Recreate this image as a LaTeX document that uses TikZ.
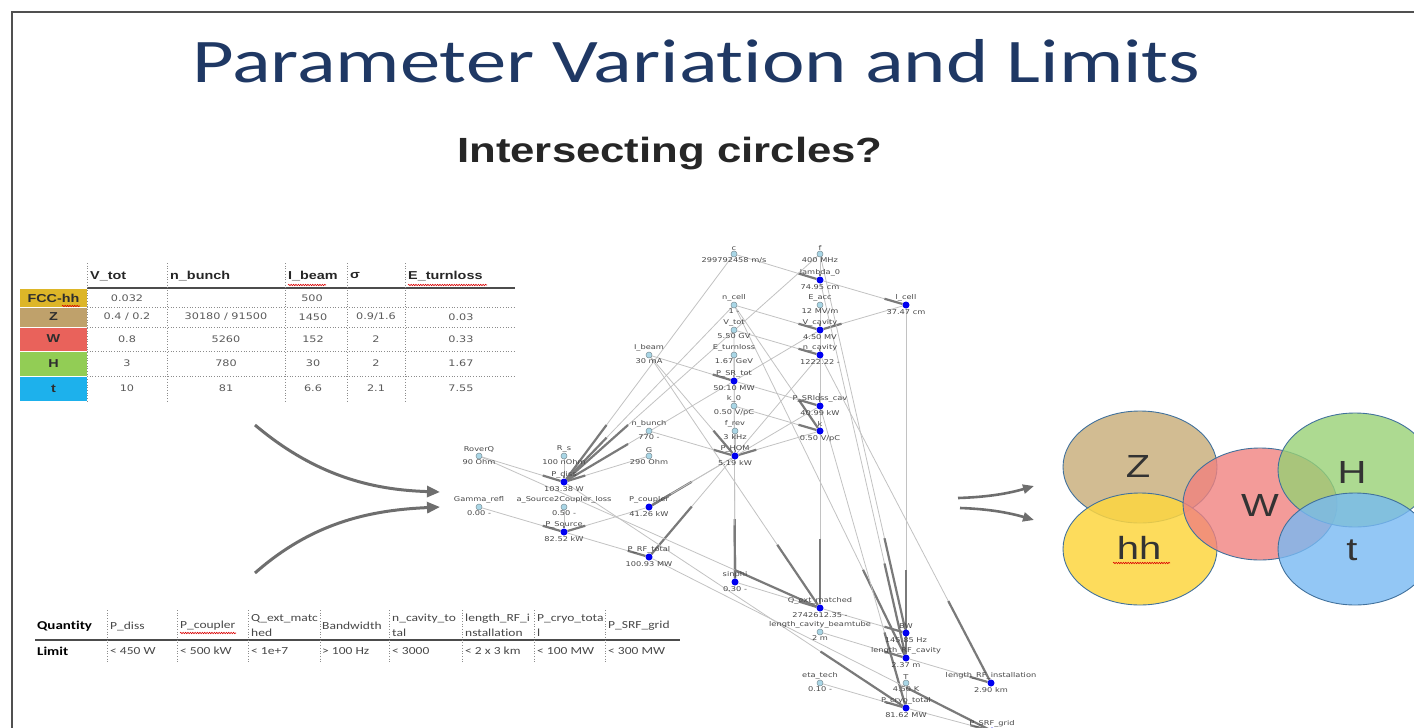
\documentclass[tikz,border=0pt]{standalone}
\usepackage{fontspec}
\usepackage{graphicx}
\usetikzlibrary{calc,arrows.meta,decorations.pathmorphing}
\newfontfamily\carl[Ligatures={NoCommon}]{Carlito}
\newfontfamily\dvs{DejaVu Sans}
\newfontfamily\lib{Liberation Sans}
\newcommand{\sx}[1]{\scalebox{1.25}[1]{#1}}
\newcommand{\gfont}{\dvs\fontsize{6.6}{7.5}\selectfont}
\definecolor{navy}{HTML}{1F3864}
\definecolor{framegray}{HTML}{505050}
\definecolor{nodelight}{HTML}{A9D6E6}
\definecolor{nodeedge}{HTML}{7A8E96}
\definecolor{nodeblue}{HTML}{0000F0}
\definecolor{arrowgray}{HTML}{6E6E6E}
\definecolor{cfcc}{HTML}{DDB628}
\definecolor{cz}{HTML}{BFA16B}
\definecolor{cw}{HTML}{E9625B}
\definecolor{ch}{HTML}{92CD55}
\definecolor{ct}{HTML}{1DB1EC}
\definecolor{ez}{HTML}{D2BC92}
\definecolor{ehh}{HTML}{FDD640}
\definecolor{ew}{HTML}{F0827F}
\definecolor{eh}{HTML}{98D175}
\definecolor{et}{HTML}{78B9F3}
\definecolor{eedge}{HTML}{41719C}
\definecolor{datagray}{HTML}{5A5A5A}
\pgfdeclarelayer{bg}
\pgfsetlayers{bg,main}
\tikzset{
  inpnode/.style={circle, fill=nodelight, draw=nodeedge, line width=0.5pt, minimum size=6pt, inner sep=0pt, label distance=0.3pt},
  outnode/.style={circle, fill=nodeblue, minimum size=7pt, inner sep=0pt, label distance=0.3pt},
  glabel/.style={font=\gfont, text=black!72, inner sep=0.3pt},
  ethin/.style={draw=black!24, line width=0.8pt},
  ethick/.style={draw=black!52, line width=2.2pt},
  bigarrow/.style={draw=arrowgray, line width=3pt, -{Triangle[length=13pt,width=11pt]}},
  smallarrow/.style={draw=arrowgray, line width=2.6pt, -{Triangle[length=11pt,width=9pt]}},
  thead/.style={font=\lib\bfseries\fontsize{11.5}{13}\selectfont, text=black!85, inner sep=0pt, anchor=west},
  tlab/.style={font=\lib\bfseries\fontsize{11.5}{13}\selectfont, text=black!82, inner sep=0pt},
  tdat/.style={font=\dvs\fontsize{9}{11}\selectfont, text=datagray, inner sep=0pt},
  tsolid/.style={draw=black!70, line width=1.1pt},
  tdot/.style={draw=black!45, line width=0.7pt, dotted},
  bhead/.style={font=\carl\fontsize{10.8}{12}\selectfont, text=black!72, inner sep=0pt, anchor=west},
  bbold/.style={font=\carl\bfseries\fontsize{12}{13}\selectfont, text=black, inner sep=0pt, anchor=west},
  spell/.style={draw=red!85!black, line width=0.6pt, decorate, decoration={snake, amplitude=0.7pt, segment length=2.4pt}},
  ell/.style={draw=eedge, line width=0.9pt},
  clabel/.style={font=\lib\fontsize{32}{36}\selectfont, text=black!80, inner sep=0pt}
}
\newcommand{\inp}[4]{\node[inpnode, label={[glabel]above:{\sx{#3}}}, label={[glabel]below:{\sx{#4}}}] (#1) at (#2) {};}
\newcommand{\outp}[4]{\node[outnode, label={[glabel]above:{\sx{#3}}}, label={[glabel]below:{\sx{#4}}}] (#1) at (#2) {};}
\newcommand{\gedge}[2]{\draw[ethin] (#1) -- (#2); \draw[ethick] ($(#1)!0.75!(#2)$) -- (#2);}
\begin{document}
\begin{tikzpicture}[x=1pt,y=-1pt]
\useasboundingbox (0,0) rectangle (1414,728);
\clip (0,0) rectangle (1414,728);
% frame
\draw[framegray, line width=1.5pt] (12,728) -- (12,12) -- (1414,12);
% titles
\node[anchor=base west, inner sep=0pt, text=navy, font=\carl\fontsize{62}{70}\selectfont] (title) at (192,82) {\scalebox{1.3}[1]{Parameter Variation and Limits}};
\node[anchor=base west, inner sep=0pt, text=black!85, font=\lib\bfseries\fontsize{35}{40}\selectfont] (subtitle) at (457,162) {\sx{Intersecting circles?}};

% ---------- top table ----------
\fill[cfcc] (20,289) rectangle (87,307);
\fill[cz] (20,307) rectangle (87,327);
\fill[cw] (20,327) rectangle (87,351);
\fill[ch] (20,351) rectangle (87,376);
\fill[ct] (20,376) rectangle (87,401);
\draw[white, line width=0.7pt] (20,307) -- (87,307) (20,327) -- (87,327) (20,351) -- (87,351) (20,376) -- (87,376);
\draw[tsolid] (87,288) -- (515,288);
\foreach \yy in {307,327,351,376} \draw[tdot] (87,\yy) -- (515,\yy);
\foreach \xx in {87,167,285,347,405} \draw[tdot] (\xx,263) -- (\xx,401);
\node[thead] (h1) at (90,276) {\sx{V\_tot}};
\node[thead] (h2) at (170,276) {\sx{n\_bunch}};
\node[thead] (h3) at (288,276) {\sx{I\_beam}};
\node[thead] (h4) at (350,276) {\sx{σ}};
\node[thead] (h5) at (408,276) {\sx{E\_turnloss}};
\draw[spell] (288,285) -- (326,285);
\draw[spell] (408,285) -- (487,285);
\node[tlab] (rfcc) at (53.5,298) {\sx{FCC-hh}};
\draw[spell] (62,306) -- (80,306);
\node[tlab] (rz) at (53.5,317) {\sx{Z}};
\node[tlab] (rw) at (53.5,339) {\sx{W}};
\node[tlab] (rh) at (53.5,363.5) {\sx{H}};
\node[tlab] (rt) at (53.5,388.5) {\sx{t}};
% data
\node[tdat] (d11) at (127,298) {\sx{0.032}};
\node[tdat] (d13) at (312,298) {\sx{500}};
\node[tdat] (d21) at (127,317) {\sx{0.4 / 0.2}};
\node[tdat] (d22) at (226,317) {\sx{30180 / 91500}};
\node[tdat] (d23) at (313,317) {\sx{1450}};
\node[tdat] (d24) at (376,317) {\sx{0.9/1.6}};
\node[tdat] (d25) at (461,317) {\sx{0.03}};
\node[tdat] (d31) at (127,339) {\sx{0.8}};
\node[tdat] (d32) at (226,339) {\sx{5260}};
\node[tdat] (d33) at (313,339) {\sx{152}};
\node[tdat] (d34) at (376,339) {\sx{2}};
\node[tdat] (d35) at (461,339) {\sx{0.33}};
\node[tdat] (d41) at (127,363.5) {\sx{3}};
\node[tdat] (d42) at (226,363.5) {\sx{780}};
\node[tdat] (d43) at (313,363.5) {\sx{30}};
\node[tdat] (d44) at (376,363.5) {\sx{2}};
\node[tdat] (d45) at (461,363.5) {\sx{1.67}};
\node[tdat] (d51) at (127,388.5) {\sx{10}};
\node[tdat] (d52) at (226,388.5) {\sx{81}};
\node[tdat] (d53) at (313,388.5) {\sx{6.6}};
\node[tdat] (d54) at (376,388.5) {\sx{2.1}};
\node[tdat] (d55) at (461,388.5) {\sx{7.55}};

% ---------- bottom table ----------
\draw[tsolid] (35,640) -- (680,640);
\foreach \xx in {107,177,248,320,389,462,534,605} \draw[tdot] (\xx,610) -- (\xx,662);
\node[bbold] (bq) at (37,626) {\sx{Quantity}};
\node[bbold] (bl) at (37,651) {\sx{Limit}};
\node[bhead] (b1) at (110,626) {\sx{P\_diss}};
\node[bhead] (b2) at (180,626) {\sx{P\_coupler}};
\draw[spell] (180,633) -- (236,633);
\node[bhead] (b3a) at (251,619) {\sx{Q\_ext\_matc}};
\node[bhead] (b3b) at (251,633) {\sx{hed}};
\node[bhead] (b4) at (322,626) {\sx{Bandwidth}};
\node[bhead] (b5a) at (392,619) {\sx{n\_cavity\_to}};
\node[bhead] (b5b) at (392,633) {\sx{tal}};
\node[bhead] (b6a) at (465,619) {\sx{length\_RF\_i}};
\node[bhead] (b6b) at (465,633) {\sx{nstallation}};
\node[bhead] (b7a) at (537,619) {\sx{P\_cryo\_tota}};
\node[bhead] (b7b) at (537,633) {\sx{l}};
\node[bhead] (b8) at (608,626) {\sx{P\_SRF\_grid}};
\node[bhead] (v1) at (110,651) {\sx{< 450 W}};
\node[bhead] (v2) at (180,651) {\sx{< 500 kW}};
\node[bhead] (v3) at (251,651) {\sx{< 1e+7}};
\node[bhead] (v4) at (322,651) {\sx{> 100 Hz}};
\node[bhead] (v5) at (392,651) {\sx{< 3000}};
\node[bhead] (v6) at (465,651) {\sx{< 2 x 3 km}};
\node[bhead] (v7) at (537,651) {\sx{< 100 MW}};
\node[bhead] (v8) at (608,651) {\sx{< 300 MW}};

% ---------- arrows ----------
\coordinate (la1) at (255,425);
\coordinate (la1e) at (440,492);
\coordinate (la2) at (255,573);
\coordinate (la2e) at (440,507);
\draw[bigarrow] (la1) .. controls (320,480) and (380,490) .. (la1e);
\draw[bigarrow] (la2) .. controls (315,520) and (375,510) .. (la2e);
\coordinate (ra1) at (958,498);
\coordinate (ra1e) at (1034,486);
\coordinate (ra2) at (960,508);
\coordinate (ra2e) at (1034,520);
\draw[smallarrow] (ra1) .. controls (990,497) and (1010,493) .. (ra1e);
\draw[smallarrow] (ra2) .. controls (990,509) and (1010,513) .. (ra2e);

% ---------- graph nodes ----------
\inp{c}{734,254}{c}{299792458 m/s}
\inp{f}{820,254}{f}{400 MHz}
\outp{lam}{820,280}{lambda\_0}{74.95 cm}
\inp{ncell}{734,305}{n\_cell}{1 -}
\inp{Eacc}{820,305}{E\_acc}{12 MV/m}
\outp{lcell}{906,305}{l\_cell}{37.47 cm}
\inp{Vtot}{734,330}{V\_tot}{5.50 GV}
\outp{Vcav}{820,330}{V\_cavity}{4.50 MV}
\inp{Eturn}{734,355}{E\_turnloss}{1.67 GeV}
\outp{ncav}{820,355}{n\_cavity}{1222.22 -}
\inp{Ibeam}{649,355}{I\_beam}{30 mA}
\outp{PSR}{734,381}{P\_SR\_tot}{50.10 MW}
\inp{kz}{734,406}{k\_0}{0.50 V/pC}
\outp{PSRl}{820,406}{P\_SRloss\_cav}{40.99 kW}
\inp{frev}{735,431}{f\_rev}{3 kHz}
\outp{kk}{820,431}{k}{0.50 V/pC}
\inp{nb}{649,431}{n\_bunch}{770 -}
\outp{PHOM}{735,456}{P\_HOM}{5.19 kW}
\inp{GG}{649,456}{G}{290 Ohm}
\inp{RQ}{479,456}{RoverQ}{90 Ohm}
\inp{Rs}{564,456}{R\_s}{100 nOhm}
\outp{Pdiss}{564,482}{P\_diss}{103.38 W}
\inp{Gam}{479,507}{Gamma\_refl}{0.00 -}
\inp{aS}{564,507}{a\_Source2Coupler\_loss}{0.50 -}
\outp{Pcoup}{649,507}{P\_coupler}{41.26 kW}
\outp{PSrc}{564,532}{P\_Source}{82.52 kW}
\outp{PRF}{649,557}{P\_RF\_total}{100.93 MW}
\outp{sphi}{735,582}{sinphi}{0.30 -}
\outp{Qext}{820,608}{Q\_ext\_matched}{2742612.35 -}
\inp{lcb}{820,632}{length\_cavity\_beamtube}{2 m}
\outp{BW}{906,633}{BW}{145.85 Hz}
\outp{lRFc}{906,658}{length\_RF\_cavity}{2.37 m}
\inp{eta}{820,683}{eta\_tech}{0.10 -}
\inp{TT}{906,683}{T}{4.50 K}
\outp{lRFi}{991,683}{length\_RF\_installation}{2.90 km}
\outp{Pcryo}{906,708}{P\_cryo\_total}{81.62 MW}
\outp{PSRF}{992,731}{P\_SRF\_grid}{}

\begin{pgfonlayer}{bg}
\gedge{c}{lam}
\gedge{f}{lam}
\gedge{lam}{lcell}
\gedge{ncell}{Vcav}
\gedge{Eacc}{Vcav}
\gedge{lcell}{Vcav}
\gedge{Vtot}{ncav}
\gedge{Vcav}{ncav}
\gedge{Eturn}{PSR}
\gedge{Ibeam}{PSR}
\gedge{PSR}{PSRl}
\gedge{ncav}{PSRl}
\gedge{kz}{kk}
\gedge{ncell}{kk}
\gedge{kk}{PHOM}
\gedge{frev}{PHOM}
\gedge{nb}{PHOM}
\gedge{Ibeam}{PHOM}
\gedge{RQ}{Pdiss}
\gedge{Rs}{Pdiss}
\gedge{GG}{Pdiss}
\gedge{Vcav}{Pdiss}
\gedge{c}{Pdiss}
\gedge{f}{Pdiss}
\gedge{ncell}{Pdiss}
\gedge{PSRl}{Pcoup}
\gedge{PHOM}{Pcoup}
\gedge{Pcoup}{PSrc}
\gedge{Gam}{PSrc}
\gedge{aS}{PSrc}
\gedge{PSrc}{PRF}
\gedge{ncav}{PRF}
\gedge{Vtot}{sphi}
\gedge{Eturn}{sphi}
\gedge{sphi}{Qext}
\gedge{Vcav}{Qext}
\gedge{Ibeam}{Qext}
\gedge{RQ}{Qext}
\gedge{Qext}{BW}
\gedge{f}{BW}
\gedge{lcell}{lRFc}
\gedge{lam}{lRFc}
\gedge{lcb}{lRFc}
\gedge{ncell}{lRFc}
\gedge{lRFc}{lRFi}
\gedge{ncav}{lRFi}
\gedge{Pdiss}{Pcryo}
\gedge{TT}{Pcryo}
\gedge{eta}{Pcryo}
\gedge{PSRl}{Pcryo}
\gedge{Pcryo}{PSRF}
\gedge{PRF}{PSRF}
\end{pgfonlayer}

% ---------- intersecting circles ----------
\path[ell, fill=ez] (1140,467) ellipse [x radius=77pt, y radius=56pt];
\path[ell, fill=ehh, fill opacity=0.85] (1140,549) ellipse [x radius=77pt, y radius=56pt];
\path[ell, fill=ew, fill opacity=0.8] (1260,504) ellipse [x radius=77pt, y radius=56pt];
\path[ell, fill=eh, fill opacity=0.8] (1355,470) ellipse [x radius=77pt, y radius=57pt];
\path[ell, fill=et, fill opacity=0.8] (1355,549) ellipse [x radius=77pt, y radius=56pt];
\node[clabel] (cZ) at (1138,466) {\sx{Z}};
\node[clabel] (chh) at (1139,548) {\sx{hh}};
\draw[spell] (1113,563) -- (1170,563);
\node[clabel] (cW) at (1260,505) {\sx{W}};
\node[clabel] (cH) at (1352,472) {\sx{H}};
\node[clabel] (cT) at (1352,550) {\sx{t}};
\end{tikzpicture}
\end{document}
